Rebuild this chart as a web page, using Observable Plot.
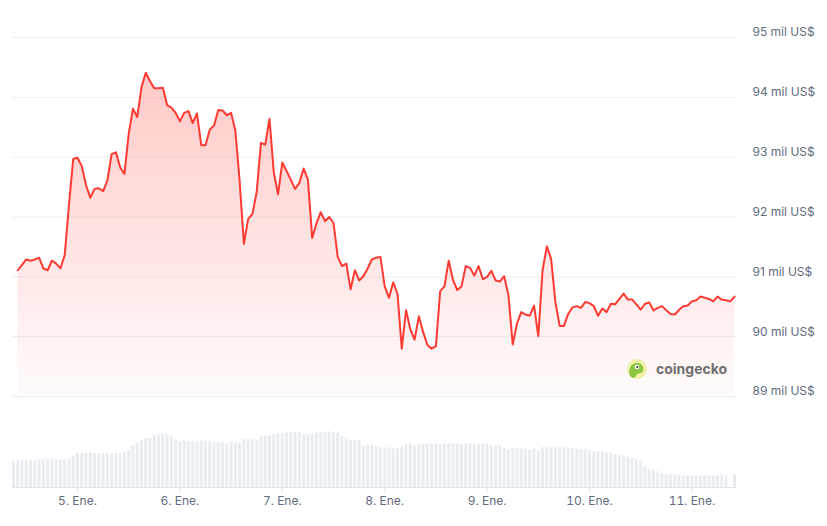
<!DOCTYPE html>
<html>
<head>
<meta charset="utf-8">
<script src="https://cdn.jsdelivr.net/npm/d3@7"></script>
<script src="https://cdn.jsdelivr.net/npm/@observablehq/plot@0.6"></script>
<style>
  html, body { margin: 0; padding: 0; background: #ffffff; }
  #chart svg { display: block; }
</style>
</head>
<body>
<div id="chart"></div>
<script>
// ---- data ----
// hourly BTC price (thousands of US$), starting 4 Jan 10:00
const priceStart = Date.UTC(2025, 0, 4, 10);
const prices = [
  91.11, 91.20, 91.29, 91.27, 91.29, 91.32, 91.14, 91.11, 91.27, 91.22,
  91.14, 91.36, 92.20, 92.97, 92.99, 92.85, 92.53, 92.32, 92.47, 92.48,
  92.43, 92.61, 93.05, 93.08, 92.83, 92.72, 93.39, 93.81, 93.67, 94.17,
  94.41, 94.27, 94.15, 94.15, 94.16, 93.87, 93.83, 93.74, 93.60, 93.74,
  93.77, 93.57, 93.73, 93.20, 93.20, 93.46, 93.53, 93.79, 93.78, 93.70,
  93.74, 93.44, 92.60, 91.55, 91.97, 92.05, 92.42, 93.24, 93.21, 93.64,
  92.75, 92.38, 92.91, 92.77, 92.62, 92.47, 92.57, 92.81, 92.63, 91.65,
  91.89, 92.08, 91.93, 92.00, 91.90, 91.33, 91.18, 91.22, 90.79, 91.11,
  90.94, 91.01, 91.14, 91.29, 91.32, 91.33, 90.84, 90.65, 90.91, 90.71,
  89.80, 90.44, 90.12, 89.95, 90.34, 90.08, 89.86, 89.80, 89.84, 90.76,
  90.84, 91.27, 90.95, 90.78, 90.84, 91.18, 91.15, 91.02, 91.18, 90.96,
  91.00, 91.10, 90.94, 90.92, 91.01, 90.69, 89.87, 90.22, 90.41, 90.37,
  90.35, 90.52, 90.01, 91.11, 91.51, 91.30, 90.58, 90.18, 90.18, 90.38,
  90.49, 90.51, 90.48, 90.58, 90.56, 90.51, 90.35, 90.47, 90.41, 90.55,
  90.54, 90.63, 90.72, 90.62, 90.62, 90.54, 90.45, 90.55, 90.57, 90.44,
  90.48, 90.51, 90.44, 90.38, 90.37, 90.45, 90.51, 90.52, 90.59, 90.61,
  90.67, 90.65, 90.63, 90.59, 90.67, 90.62, 90.61, 90.59, 90.67
];
// hourly 24h volume (miles de millones US$), starting 4 Jan 09:00
const volumeStart = Date.UTC(2025, 0, 4, 9);
const volumes = [
  26.0, 26.7, 26.7, 26.7, 26.7, 26.7, 27.7, 27.7, 28.7, 28.7,
  27.7, 27.7, 27.7, 28.7, 31.7, 34.0, 34.0, 34.0, 34.7, 34.0,
  34.0, 34.0, 34.0, 32.7, 34.0, 34.0, 35.0, 37.7, 41.7, 44.0,
  46.7, 49.0, 49.0, 52.0, 52.7, 53.7, 53.0, 50.7, 47.7, 45.7,
  46.7, 45.7, 45.7, 45.7, 46.7, 45.7, 45.7, 44.7, 44.7, 44.7,
  43.7, 45.7, 44.7, 44.7, 48.3, 48.3, 47.7, 47.7, 50.7, 51.7,
  51.7, 53.0, 53.7, 53.7, 54.7, 54.7, 54.7, 54.7, 52.7, 52.7,
  53.7, 54.7, 55.7, 55.0, 55.7, 54.7, 54.7, 50.7, 48.7, 46.7,
  46.7, 46.7, 41.7, 42.7, 42.7, 40.7, 39.7, 38.7, 39.7, 38.7,
  38.7, 40.7, 42.7, 43.7, 41.7, 42.7, 42.7, 43.7, 43.7, 43.7,
  42.7, 43.7, 43.7, 43.7, 43.7, 42.7, 43.7, 43.7, 42.7, 42.7,
  43.7, 43.7, 41.7, 41.7, 41.7, 38.7, 37.7, 39.7, 38.7, 38.7,
  37.7, 37.7, 38.7, 36.7, 39.7, 39.7, 39.7, 39.7, 39.7, 39.7,
  39.7, 38.7, 38.7, 37.7, 37.7, 36.7, 35.7, 35.7, 35.7, 34.7,
  34.7, 32.7, 31.7, 31.7, 30.7, 29.7, 27.7, 26.7, 20.7, 17.7,
  16.7, 15.7, 13.7, 12.7, 12.7, 12.7, 12.7, 11.7, 11.7, 11.7,
  11.7, 11.7, 11.7, 11.7, 11.7, 11.7, 12.7, 11.7, 0, 12.7
];
const dayTickDays = [5, 6, 7, 8, 9, 10, 11];
const dayTickLabels = ["5. Ene.", "6. Ene.", "7. Ene.", "8. Ene.", "9. Ene.", "10. Ene.", "11. Ene."];
const priceTicks = [89, 90, 91, 92, 93, 94, 95];
const priceTickLabels = ["89 mil US$", "90 mil US$", "91 mil US$", "92 mil US$", "93 mil US$", "94 mil US$", "95 mil US$"];

// ---- tables built from the arrays ----
const HOUR = 3600 * 1000;
const priceData = prices.map((p, i) => ({ t: new Date(priceStart + i * HOUR), p }));
const volumeData = volumes.map((v, i) => ({ t: volumeStart + i * HOUR, v }));
const dayTicks = dayTickDays.map(d => new Date(Date.UTC(2025, 0, d)));
const xDomain = [new Date(Date.UTC(2025, 0, 4, 8, 46)), new Date(Date.UTC(2025, 0, 11, 10, 41))];
const priceLabelData = priceTicks.map((v, i) => ({ v, label: priceTickLabels[i] }));

const font = "Inter, 'Noto Sans', sans-serif";
const labelColor = "#5f6b7e";
const gridColor = "#eceff3";
const lineColor = "#ff3a33";

const pricePlot = Plot.plot({
  width: 827,
  height: 410,
  marginLeft: 12,
  marginRight: 90,
  marginTop: 37,
  marginBottom: 14,
  style: { fontFamily: font, fontSize: "12px", color: labelColor, background: "transparent" },
  x: { type: "utc", domain: xDomain, axis: null },
  y: { domain: [89, 95], axis: null },
  marks: [
    Plot.ruleY(priceTicks, { stroke: gridColor, strokeWidth: 1 }),
    Plot.text(priceLabelData, {
      x: () => xDomain[1], y: "v", text: "label",
      textAnchor: "start", dx: 15, dy: -5,
      fill: labelColor, fontSize: 12
    }),
    Plot.areaY(priceData, { x: "t", y1: 89, y2: "p", fill: "url(#priceGrad)", curve: "linear" }),
    Plot.lineY(priceData, { x: "t", y: "p", stroke: lineColor, strokeWidth: 2, strokeLinejoin: "round" })
  ]
});

// gradient definition for the area fill
const svgSel = d3.select(pricePlot);
const defs = svgSel.insert("defs", ":first-child");
const grad = defs.append("linearGradient")
  .attr("id", "priceGrad").attr("x1", 0).attr("y1", 0).attr("x2", 0).attr("y2", 1);
grad.append("stop").attr("offset", "0%").attr("stop-color", "#ff3a33").attr("stop-opacity", 0.27);
grad.append("stop").attr("offset", "100%").attr("stop-color", "#ff3a33").attr("stop-opacity", 0.02);

// coingecko watermark
const wm = svgSel.append("g").attr("transform", "translate(637,369)");
wm.append("circle").attr("r", 10).attr("fill", "#eef0a6");
wm.append("path").attr("d", "M-7,7 C-9,0 -6,-6 0,-6 C5,-6 7,-2 6,2 C5,4 2,4 0,5 C-1,7 -2,9 -4,9 Z").attr("fill", "#8cc540");
wm.append("circle").attr("cx", 0).attr("cy", -2).attr("r", 2.3).attr("fill", "#ffffff");
wm.append("circle").attr("cx", 0.3).attr("cy", -2).attr("r", 1.1).attr("fill", "#333333");
svgSel.append("text")
  .attr("x", 656).attr("y", 374)
  .attr("text-anchor", "start")
  .attr("font-family", font).attr("font-size", 14).attr("font-weight", 700)
  .attr("fill", "#6f6f6f").text("coingecko");

const volumePlot = Plot.plot({
  width: 827,
  height: 116,
  marginLeft: 12,
  marginRight: 90,
  marginTop: 0,
  marginBottom: 39,
  style: { fontFamily: font, fontSize: "12px", color: labelColor, background: "transparent" },
  x: {
    type: "utc",
    domain: xDomain,
    ticks: dayTicks,
    tickSize: 0,
    tickPadding: 9,
    tickFormat: d => dayTickLabels[dayTickDays.indexOf(d.getUTCDate())],
    label: null
  },
  y: { domain: [0, 77], axis: null },
  marks: [
    Plot.rectY(volumeData, {
      x1: d => new Date(d.t - 0.25 * HOUR),
      x2: d => new Date(d.t + 0.45 * HOUR),
      y: "v",
      fill: "#e9edf2"
    }),
    Plot.ruleY([0], { stroke: "#e3e7ed" }),
    Plot.ruleX(dayTicks, { y1: 0, y2: -6, stroke: "#e3e7ed" })
  ]
});

document.getElementById("chart").append(pricePlot, volumePlot);
</script>
</body>
</html>
